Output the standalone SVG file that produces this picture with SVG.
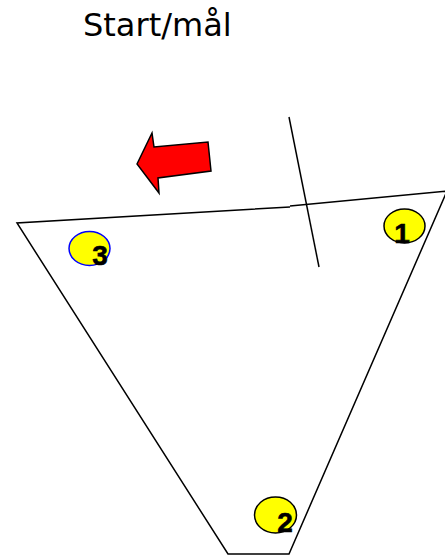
<svg xmlns="http://www.w3.org/2000/svg" width="445" height="556" viewBox="0 0 445 556">
<style>
.ln{fill:none;stroke:#000;stroke-width:1.5}
.dot{fill:#ffff00;stroke-width:1.5}
.num{font-family:"Liberation Sans",Arial,sans-serif;font-weight:bold;font-size:28px;fill:#000;text-anchor:middle;stroke:#000;stroke-width:0.6}
.title{font-family:"DejaVu Sans",Verdana,sans-serif;font-size:32px;fill:#000}
</style>
<rect width="445" height="556" fill="#fff"/>
<text class="title" x="83" y="36">Start/mål</text>
<g id="track">
<polyline class="ln" points="290,207 17,223 228,554 289,554 447,191 290,206"/>
</g>
<g id="startline">
<line class="ln" x1="289" y1="117" x2="319" y2="267"/>
</g>
<g id="arrow">
<polygon points="137,164 152,133 154,147 208,142 211,171 158,178 159,193" fill="#ff0000" stroke="#000" stroke-width="1.5" stroke-linejoin="miter"/>
</g>
<g id="p1">
<ellipse class="dot" cx="404.5" cy="226" rx="20.5" ry="17" stroke="#000"/>
<text class="num" x="402" y="243">1</text>
</g>
<g id="p2">
<ellipse class="dot" cx="275.5" cy="515" rx="21" ry="18" stroke="#000"/>
<text class="num" x="285" y="532">2</text>
</g>
<g id="p3">
<ellipse class="dot" cx="89.5" cy="248.5" rx="20.5" ry="17" stroke="#0000ff"/>
<text class="num" x="100" y="265">3</text>
</g>
</svg>
